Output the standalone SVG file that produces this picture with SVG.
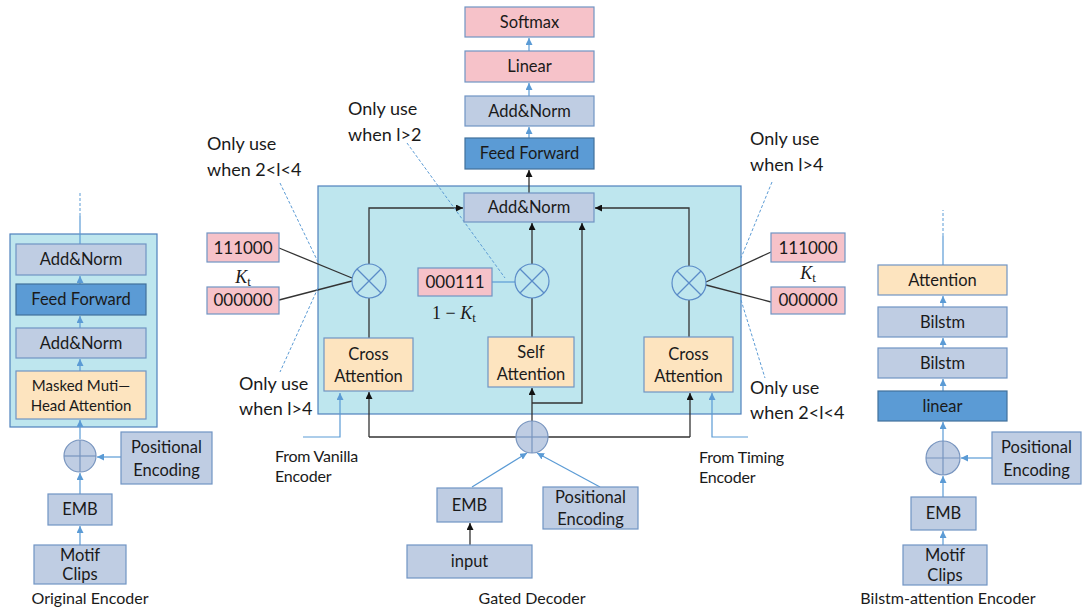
<svg xmlns="http://www.w3.org/2000/svg" width="1082" height="611" viewBox="0 0 1082 611">
<defs>
<marker id="ab" viewBox="0 0 10 10" refX="10" refY="5" markerWidth="7" markerHeight="7" orient="auto" markerUnits="userSpaceOnUse"><path d="M0,0 L10,5 L0,10 z" fill="#111"/></marker>
<marker id="au" viewBox="0 0 10 10" refX="10" refY="5" markerWidth="7" markerHeight="7" orient="auto" markerUnits="userSpaceOnUse"><path d="M0,0 L10,5 L0,10 z" fill="#5B9BD5"/></marker>
</defs>
<style>
text{font-family:Lato,"Liberation Sans",sans-serif;fill:#1a1a1a;}
.bx{fill:#BFCDE3;stroke:#7094C4;stroke-width:1.2;}
.ff{fill:#5B9BD5;stroke:#41719C;stroke-width:1.2;}
.or{fill:#FDE4BF;stroke:#7094C4;stroke-width:1.2;}
.pk{fill:#F6C2C9;stroke:#7094C4;stroke-width:1.2;}
.cy{fill:#BEE6EE;stroke:#4F81BD;stroke-width:1.2;}
.mul{fill:none;stroke:#5B8CC8;stroke-width:1.2;}
.pl{fill:#BFCDE3;stroke:#7895BF;stroke-width:1.2;}
.pli{stroke:#7895BF;stroke-width:1.2;}
.t16{font-size:16.5px;text-anchor:middle;}
.t15{font-size:15px;text-anchor:middle;}
.dg{font-size:17px;text-anchor:middle;}
.note{font-size:18px;}
.src{font-size:16px;letter-spacing:-0.2px;}
.cap{font-size:16px;text-anchor:middle;}
.blk{stroke:#333;stroke-width:1.3;fill:none;}
.blu{stroke:#5B9BD5;stroke-width:1.2;fill:none;}
.dash{stroke:#5B9BD5;stroke-width:1;stroke-dasharray:3,2;fill:none;}
.math{font-family:"Liberation Serif",serif;font-size:18px;text-anchor:middle;}
</style>

<!-- containers -->
<g id="original-encoder-box"><rect class="cy" x="10" y="234" width="147" height="193"/></g>
<g id="gated-decoder-box"><rect class="cy" x="318" y="186" width="423" height="228"/></g>

<!-- connectors -->
<g id="connectors">
  <line class="blu" x1="80" y1="545" x2="80" y2="526" marker-end="url(#au)"/>
  <line class="blu" x1="80" y1="494" x2="80" y2="473" marker-end="url(#au)"/>
  <line class="blu" x1="80" y1="439" x2="80" y2="420" marker-end="url(#au)"/>
  <line class="blu" x1="80" y1="371" x2="80" y2="359" marker-end="url(#au)"/>
  <line class="blu" x1="80" y1="328" x2="80" y2="316" marker-end="url(#au)"/>
  <line class="blu" x1="80" y1="284" x2="80" y2="276" marker-end="url(#au)"/>
  <line class="blu" x1="80" y1="244" x2="80" y2="216"/>
  <line class="dash" x1="80" y1="216" x2="80" y2="193"/>
  <line class="blu" x1="121" y1="457" x2="97" y2="457" marker-end="url(#au)"/>
  <line class="blu" x1="943" y1="545" x2="943" y2="531" marker-end="url(#au)"/>
  <line class="blu" x1="943" y1="497" x2="943" y2="476" marker-end="url(#au)"/>
  <line class="blu" x1="943" y1="441" x2="943" y2="422" marker-end="url(#au)"/>
  <line class="blu" x1="943" y1="391" x2="943" y2="379" marker-end="url(#au)"/>
  <line class="blu" x1="943" y1="348" x2="943" y2="338" marker-end="url(#au)"/>
  <line class="blu" x1="943" y1="307" x2="943" y2="296" marker-end="url(#au)"/>
  <line class="blu" x1="943" y1="265" x2="943" y2="236"/>
  <line class="dash" x1="943" y1="236" x2="943" y2="210"/>
  <line class="blu" x1="992" y1="458" x2="961" y2="458" marker-end="url(#au)"/>
  <line class="blk" x1="529" y1="193" x2="529" y2="170" marker-end="url(#ab)"/>
  <line class="blu" x1="529" y1="138" x2="529" y2="127" marker-end="url(#au)"/>
  <line class="blu" x1="529" y1="96" x2="529" y2="83" marker-end="url(#au)"/>
  <line class="blu" x1="529" y1="51" x2="529" y2="38" marker-end="url(#au)"/>
  <line class="blk" x1="369" y1="338" x2="369" y2="298"/>
  <polyline class="blk" points="369,264 369,208 463,208" marker-end="url(#ab)"/>
  <line class="blk" x1="279" y1="248" x2="352" y2="278"/>
  <line class="blk" x1="279" y1="300" x2="352" y2="281"/>
  <line class="blk" x1="532" y1="337" x2="532" y2="298"/>
  <line class="blk" x1="532" y1="264" x2="532" y2="223" marker-end="url(#ab)"/>
  <line class="blu" x1="492" y1="282" x2="515" y2="282"/>
  <line class="blk" x1="532" y1="421" x2="532" y2="388" marker-end="url(#ab)"/>
  <polyline class="blk" points="532,403 582,403 582,223" marker-end="url(#ab)"/>
  <line class="blk" x1="689" y1="337" x2="689" y2="300"/>
  <polyline class="blk" points="689,266 689,208 595,208" marker-end="url(#ab)"/>
  <line class="blk" x1="706" y1="282" x2="771" y2="252"/>
  <line class="blk" x1="706" y1="285" x2="771" y2="302"/>
  <line class="blk" x1="369" y1="437" x2="690" y2="437"/>
  <line class="blk" x1="369" y1="437" x2="369" y2="392" marker-end="url(#ab)"/>
  <line class="blk" x1="690" y1="437" x2="690" y2="393" marker-end="url(#ab)"/>
  <polyline class="blu" points="303,437 340,437 340,393" marker-end="url(#au)"/>
  <polyline class="blu" points="748,437 712,437 712,393" marker-end="url(#au)"/>
  <line class="blu" x1="472" y1="487" x2="527" y2="453" marker-end="url(#au)"/>
  <line class="blu" x1="600" y1="487" x2="537" y2="453" marker-end="url(#au)"/>
  <line class="blk" x1="470" y1="545" x2="470" y2="523" marker-end="url(#ab)"/>
  <line class="dash" x1="280" y1="183" x2="318" y2="262"/>
  <line class="dash" x1="318" y1="288" x2="280" y2="372"/>
  <line class="dash" x1="407" y1="143" x2="505" y2="278"/>
  <line class="dash" x1="772" y1="182" x2="741" y2="258"/>
  <line class="dash" x1="741" y1="300" x2="765" y2="378"/>
</g>

<!-- Original encoder nodes -->
<g id="oe-addnorm2"><rect class="bx" x="16" y="244" width="130" height="31"/><text class="t16" x="81" y="265">Add&amp;Norm</text></g>
<g id="oe-ff"><rect class="ff" x="16" y="284" width="130" height="31"/><text class="t16" x="81" y="305">Feed Forward</text></g>
<g id="oe-addnorm1"><rect class="bx" x="16" y="328" width="130" height="30"/><text class="t16" x="81" y="349">Add&amp;Norm</text></g>
<g id="oe-mha"><rect class="or" x="16" y="371" width="130" height="48"/><text class="t15" x="81" y="391">Masked Muti—</text><text class="t15" x="81" y="411">Head Attention</text></g>
<g id="oe-plus"><circle class="pl" cx="80" cy="456" r="16"/><line class="pli" x1="64" y1="456" x2="96" y2="456"/><line class="pli" x1="80" y1="440" x2="80" y2="472"/></g>
<g id="oe-pe"><rect class="bx" x="121" y="432" width="91" height="52"/><text class="t16" x="166.5" y="453">Positional</text><text class="t16" x="166.5" y="476">Encoding</text></g>
<g id="oe-emb"><rect class="bx" x="48" y="494" width="64" height="31"/><text class="t16" x="80" y="515">EMB</text></g>
<g id="oe-motif"><rect class="bx" x="34" y="545" width="92" height="39"/><text class="t16" x="80" y="561">Motif</text><text class="t16" x="80" y="580">Clips</text></g>
<g id="oe-label"><text class="cap" x="90" y="604">Original Encoder</text></g>

<!-- Decoder top stack -->
<g id="softmax"><rect class="pk" x="465" y="7" width="129" height="30"/><text class="t16" x="529.5" y="28">Softmax</text></g>
<g id="linear-out"><rect class="pk" x="465" y="51" width="129" height="31"/><text class="t16" x="529.5" y="72">Linear</text></g>
<g id="dec-addnorm2"><rect class="bx" x="465" y="96" width="129" height="30"/><text class="t16" x="529.5" y="117">Add&amp;Norm</text></g>
<g id="dec-ff"><rect class="ff" x="465" y="138" width="129" height="31"/><text class="t16" x="529.5" y="159">Feed Forward</text></g>
<g id="dec-addnorm1"><rect class="bx" x="464" y="193" width="130" height="29"/><text class="t16" x="529" y="213">Add&amp;Norm</text></g>

<!-- left cross attention branch -->
<g id="cross-att-left"><rect class="or" x="324" y="338" width="89" height="53"/><text class="t16" x="368.5" y="360">Cross</text><text class="t16" x="368.5" y="382">Attention</text></g>
<g id="mul-left"><circle class="mul" cx="369" cy="281" r="17"/><line class="mul" x1="357" y1="269" x2="381" y2="293"/><line class="mul" x1="381" y1="269" x2="357" y2="293"/></g>
<g id="kt-left-1"><rect class="pk" x="207" y="233" width="72" height="29"/><text class="dg" x="243" y="254">111000</text></g>
<g id="kt-left-label"><text class="math" x="243" y="283"><tspan font-style="italic">K</tspan><tspan font-size="13" dy="3">t</tspan></text></g>
<g id="kt-left-0"><rect class="pk" x="207" y="287" width="72" height="27"/><text class="dg" x="243" y="306">000000</text></g>

<!-- middle self attention branch -->
<g id="self-att"><rect class="or" x="488" y="337" width="86" height="50"/><text class="t16" x="531" y="358">Self</text><text class="t16" x="531" y="380">Attention</text></g>
<g id="mul-mid"><circle class="mul" cx="532" cy="281" r="17"/><line class="mul" x1="520" y1="269" x2="544" y2="293"/><line class="mul" x1="544" y1="269" x2="520" y2="293"/></g>
<g id="kt-mid"><rect class="pk" x="418" y="268" width="74" height="28"/><text class="dg" x="455" y="288">000111</text></g>
<g id="kt-mid-label"><text class="math" x="454" y="319">1 − <tspan font-style="italic">K</tspan><tspan font-size="13" dy="3">t</tspan></text></g>

<!-- right cross attention branch -->
<g id="cross-att-right"><rect class="or" x="644" y="337" width="89" height="55"/><text class="t16" x="688.5" y="360">Cross</text><text class="t16" x="688.5" y="382">Attention</text></g>
<g id="mul-right"><circle class="mul" cx="689" cy="283" r="17"/><line class="mul" x1="677" y1="271" x2="701" y2="295"/><line class="mul" x1="701" y1="271" x2="677" y2="295"/></g>
<g id="kt-right-1"><rect class="pk" x="771" y="233" width="74" height="29"/><text class="dg" x="808" y="254">111000</text></g>
<g id="kt-right-label"><text class="math" x="808" y="279"><tspan font-style="italic">K</tspan><tspan font-size="13" dy="3">t</tspan></text></g>
<g id="kt-right-0"><rect class="pk" x="771" y="287" width="74" height="27"/><text class="dg" x="808" y="306">000000</text></g>

<!-- gated input -->
<g id="dec-plus"><circle class="pl" cx="532" cy="437" r="16"/><line class="pli" x1="516" y1="437" x2="548" y2="437"/><line class="pli" x1="532" y1="421" x2="532" y2="453"/></g>
<g id="dec-emb"><rect class="bx" x="437" y="488" width="65" height="34"/><text class="t16" x="469.5" y="511">EMB</text></g>
<g id="dec-pe"><rect class="bx" x="543" y="487" width="95" height="42"/><text class="t16" x="590.5" y="503">Positional</text><text class="t16" x="590.5" y="525">Encoding</text></g>
<g id="dec-input"><rect class="bx" x="407" y="545" width="125" height="33"/><text class="t16" x="469.5" y="567">input</text></g>
<g id="dec-label"><text class="cap" x="532" y="604">Gated Decoder</text></g>

<!-- annotations -->
<g id="note-left-top"><text class="note" x="207" y="150">Only use</text><text class="note" x="207" y="176">when 2&lt;l&lt;4</text></g>
<g id="note-left-bottom"><text class="note" x="239" y="390">Only use</text><text class="note" x="239" y="415">when l&gt;4</text></g>
<g id="note-mid"><text class="note" x="348" y="115">Only use</text><text class="note" x="348" y="141">when l&gt;2</text></g>
<g id="note-right-top"><text class="note" x="750" y="145">Only use</text><text class="note" x="750" y="171">when l&gt;4</text></g>
<g id="note-right-bottom"><text class="note" x="750" y="394">Only use</text><text class="note" x="750" y="419">when 2&lt;l&lt;4</text></g>
<g id="src-vanilla"><text class="src" x="275" y="462">From Vanilla</text><text class="src" x="275" y="482">Encoder</text></g>
<g id="src-timing"><text class="src" x="699" y="463">From Timing</text><text class="src" x="699" y="483">Encoder</text></g>

<!-- Bilstm-attention encoder -->
<g id="be-attention"><rect class="or" x="878" y="265" width="129" height="30"/><text class="t16" x="942.5" y="286">Attention</text></g>
<g id="be-bilstm2"><rect class="bx" x="878" y="307" width="129" height="30"/><text class="t16" x="942.5" y="328">Bilstm</text></g>
<g id="be-bilstm1"><rect class="bx" x="878" y="348" width="129" height="30"/><text class="t16" x="942.5" y="369">Bilstm</text></g>
<g id="be-linear"><rect class="ff" x="878" y="391" width="129" height="30"/><text class="t16" x="942.5" y="412">linear</text></g>
<g id="be-plus"><circle class="pl" cx="943" cy="458" r="17"/><line class="pli" x1="926" y1="458" x2="960" y2="458"/><line class="pli" x1="943" y1="441" x2="943" y2="475"/></g>
<g id="be-pe"><rect class="bx" x="992" y="432" width="89" height="52"/><text class="t16" x="1036.5" y="453">Positional</text><text class="t16" x="1036.5" y="476">Encoding</text></g>
<g id="be-emb"><rect class="bx" x="911" y="497" width="65" height="33"/><text class="t16" x="943.5" y="519">EMB</text></g>
<g id="be-motif"><rect class="bx" x="903" y="545" width="84" height="40"/><text class="t16" x="945" y="561">Motif</text><text class="t16" x="945" y="581">Clips</text></g>
<g id="be-label"><text class="cap" x="948" y="604">Bilstm-attention Encoder</text></g>
</svg>
